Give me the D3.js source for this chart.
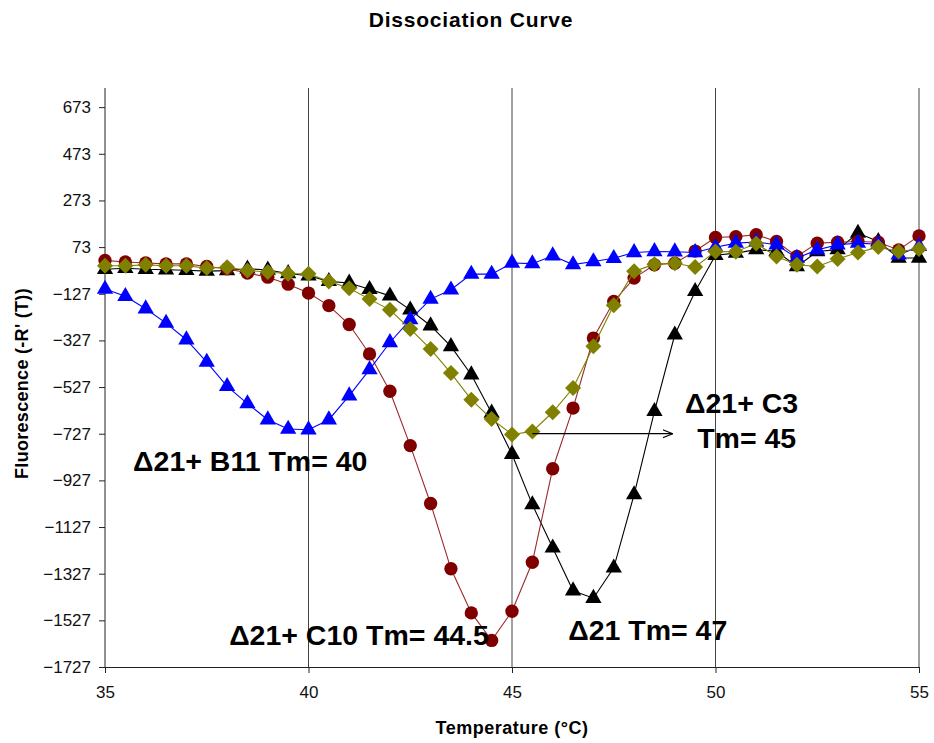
<!DOCTYPE html>
<html>
<head>
<meta charset="utf-8">
<script src="https://cdn.jsdelivr.net/npm/d3@7"></script>
<style>
  html, body { margin: 0; padding: 0; background: #fff; }
  svg { display: block; font-family: "Liberation Sans", Arial, sans-serif; }
</style>
</head>
<body>
<svg id="chart" width="934" height="743"></svg>
<script>
// Temperature steps (°C)
const temperatures = [35, 35.5, 36, 36.5, 37, 37.5, 38, 38.5, 39, 39.5, 40, 40.5, 41, 41.5, 42, 42.5, 43, 43.5, 44, 44.5, 45,
  45.5, 46, 46.5, 47, 47.5, 48, 48.5, 49, 49.5, 50, 50.5, 51, 51.5, 52, 52.5, 53, 53.5, 54, 54.5, 55];

// -R'(T) per sample
const delta21 = [-22, -18, -22, -24, -26, -30, -28, -20, -25, -40, -50, -74, -81, -108, -136, -196, -264, -353, -474, -638, -815,
  -1031, -1216, -1400, -1432, -1302, -988, -631, -303, -117, 38, 47, 62, 55, -10, 54, 62, 133, 97, 26, 26];
const delta21C10 = [16, 9, 5, 1, 1, -10, -20, -38, -56, -86, -124, -178, -259, -385, -545, -778, -1026, -1306, -1495, -1613, -1488,
  -1278, -877, -617, -317, -160, -60, -3, 4, 56, 114, 118, 126, 97, 33, 90, 94, 97, 94, 61, 121];
const delta21B11 = [-107, -138, -191, -253, -324, -420, -524, -598, -667, -707, -710, -667, -564, -452, -336, -238, -150, -110, -43, -43, 5,
  2, 36, -2, 11, 25, 50, 54, 53, 50, 72, 90, 95, 83, 26, 61, 83, 90, 85, 40, 76];
const delta21C3 = [-7, -7, -3, -7, -7, -17, -13, -27, -34, -41, -41, -74, -103, -150, -196, -278, -364, -467, -581, -664, -730,
  -717, -635, -531, -352, -176, -31, 0, 4, -12, 54, 53, 88, 33, -3, -10, 22, 50, 73, 54, 65];

// Axis ticks
const xTicks = [35, 40, 45, 50, 55];
const yTicks = [-1727, -1527, -1327, -1127, -927, -727, -527, -327, -127, 73, 273, 473, 673];
const gridTemps = [40, 45, 50, 55];

const svg = d3.select("#chart");
const plot = { left: 105, right: 919, top: 88, bottom: 667 };

const x = d3.scaleLinear().domain([35, 55]).range([plot.left, plot.right]);
const y = d3.scaleLinear().domain([-1727, 755]).range([plot.bottom, plot.top]);

// Title
svg.append("text")
  .attr("x", 471).attr("y", 27)
  .attr("text-anchor", "middle")
  .attr("font-size", 21).attr("font-weight", "bold")
  .attr("letter-spacing", 0.8)
  .text("Dissociation Curve");

// Vertical grid lines
svg.append("g").selectAll("line").data(gridTemps).join("line")
  .attr("x1", d => x(d)).attr("x2", d => x(d))
  .attr("y1", plot.top).attr("y2", plot.bottom)
  .attr("stroke", "#444").attr("stroke-width", 1);

// Axes
const yAxis = d3.axisLeft(y).tickValues(yTicks).tickSize(6).tickPadding(8).tickFormat(d3.format("d"));
const gy = svg.append("g").attr("transform", `translate(${plot.left},0)`).call(yAxis);
gy.select(".domain").attr("d", `M0,${plot.top}V${plot.bottom}`);

const xAxis = d3.axisBottom(x).tickValues(xTicks).tickSize(6).tickPadding(13).tickFormat(d3.format("d"));
const gx = svg.append("g").attr("transform", `translate(0,${plot.bottom})`).call(xAxis);

[gx, gy].forEach(g => {
  g.attr("font-size", 17).attr("font-family", "\"Liberation Sans\", Arial, sans-serif");
  g.select(".domain").attr("stroke", "#222");
  g.selectAll(".tick line").attr("stroke", "#222");
  g.selectAll(".tick text").attr("fill", "#111").style("font-size", "17px");
});

// Axis titles
svg.append("text")
  .attr("x", 512).attr("y", 734)
  .attr("text-anchor", "middle")
  .attr("font-size", 18).attr("font-weight", "bold")
  .attr("letter-spacing", 0.5)
  .text("Temperature (°C)");

svg.append("text")
  .attr("transform", `translate(28,${(plot.top + plot.bottom) / 2 + 6}) rotate(-90)`)
  .attr("text-anchor", "middle")
  .attr("font-size", 18).attr("font-weight", "bold")
  .attr("letter-spacing", 0.3)
  .text("Fluorescence (-R' (T))");

// Series
const series = [
  { name: "Δ21", values: delta21, line: "#000000", fill: "#000000", shape: "triangle" },
  { name: "Δ21+ C10", values: delta21C10, line: "#9b2a2a", fill: "#800000", shape: "circle" },
  { name: "Δ21+ B11", values: delta21B11, line: "#0000ff", fill: "#0000ff", shape: "triangle" },
  { name: "Δ21+ C3", values: delta21C3, line: "#808000", fill: "#808000", shape: "diamond" }
];

const line = d3.line().x(d => x(d[0])).y(d => y(d[1]));
const symbols = {
  triangle: d3.symbol().type(d3.symbolTriangle).size(115),
  circle: d3.symbol().type(d3.symbolCircle).size(140),
  diamond: d3.symbol().type(d3.symbolSquare).size(128)
};

series.forEach(s => {
  const pts = temperatures.map((t, i) => [t, s.values[i]]);
  const g = svg.append("g");
  g.append("path").datum(pts)
    .attr("d", line).attr("fill", "none")
    .attr("stroke", s.line).attr("stroke-width", 1.1);
  g.selectAll("path.m").data(pts).join("path").attr("class", "m")
    .attr("d", symbols[s.shape])
    .attr("transform", d => `translate(${x(d[0])},${y(d[1])})` + (s.shape === "diamond" ? " rotate(45)" : ""))
    .attr("fill", s.fill);
});

// Annotations
const notes = [
  { t: 35.69, v: -887, text: "Δ21+ B11 Tm= 40" },
  { t: 38.05, v: -1633, text: "Δ21+ C10 Tm= 44.5" },
  { t: 46.38, v: -1611, text: "Δ21 Tm= 47" },
  { t: 49.25, v: -638, text: "Δ21+ C3" },
  { t: 49.55, v: -788, text: "Tm= 45" }
];
svg.append("g").selectAll("text").data(notes).join("text")
  .attr("x", d => x(d.t)).attr("y", d => y(d.v))
  .attr("font-size", 28.5).attr("font-weight", "bold").attr("fill", "#000")
  .text(d => d.text);

// Arrow pointing from the C3 minimum to its label
svg.append("defs").append("marker")
  .attr("id", "arrowhead").attr("viewBox", "0 0 10 10")
  .attr("refX", 10).attr("refY", 5)
  .attr("markerWidth", 10).attr("markerHeight", 10)
  .attr("markerUnits", "userSpaceOnUse")
  .attr("orient", "auto")
  .append("path").attr("d", "M0,1 L10,5 L0,9").attr("fill", "none").attr("stroke", "#000").attr("stroke-width", 1.2);

svg.append("line")
  .attr("x1", x(45.5)).attr("y1", y(-727))
  .attr("x2", x(48.95)).attr("y2", y(-727))
  .attr("stroke", "#000").attr("stroke-width", 1.2)
  .attr("marker-end", "url(#arrowhead)");
</script>
</body>
</html>
